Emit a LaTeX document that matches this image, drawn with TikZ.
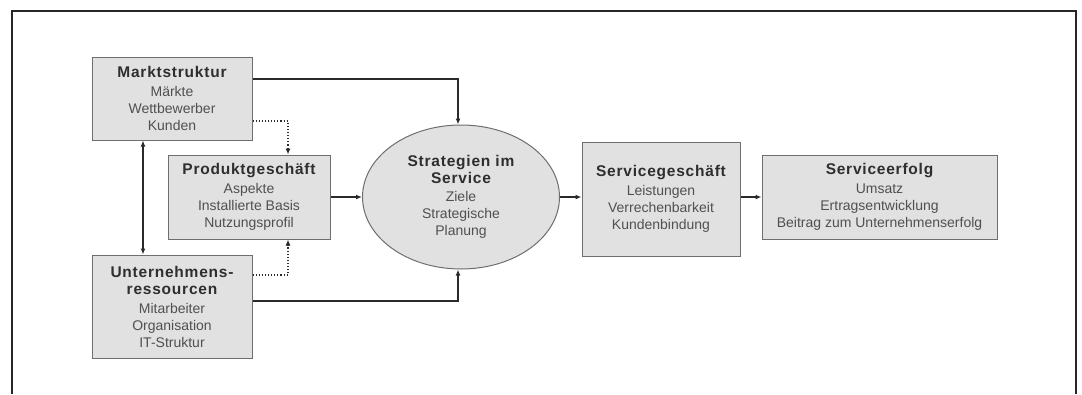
\documentclass[tikz,border=0pt]{standalone}
\usepackage{fontspec}
\setmainfont{Liberation Sans}
\usetikzlibrary{arrows.meta,shapes.geometric}
\definecolor{boxfill}{HTML}{E1E1E1}
\definecolor{boxline}{HTML}{6E6E6E}
\definecolor{titlecol}{HTML}{2E2E2E}
\definecolor{subcol}{HTML}{505050}
\definecolor{conn}{HTML}{2A2A2A}
\newcommand{\ttl}[1]{{\fontsize{15.5}{20}\selectfont\bfseries\addfontfeatures{LetterSpace=5}\color{titlecol}#1}}
\newcommand{\sbl}{\fontsize{14}{17}\selectfont\color{subcol}}
\tikzset{
  box/.style={draw=boxline, line width=1pt, fill=boxfill, rectangle, align=center, inner sep=0pt, font=\sbl},
  oval/.style={draw=boxline, line width=1pt, fill=boxfill, ellipse, align=center, inner sep=0pt, font=\sbl},
  conn/.style={draw=conn, line width=1.5pt, -{Latex[length=6pt,width=5pt]}},
  biconn/.style={draw=conn, line width=1.5pt, {Latex[length=6pt,width=5pt]}-{Latex[length=6pt,width=5pt]}},
  dotconn/.style={draw=conn, line width=1.1pt, dotted, -{Latex[length=6pt,width=5pt]}},
  frameline/.style={draw=black!85, line width=2pt}
}
\begin{document}
\begin{tikzpicture}[x=1pt,y=-1pt]
\useasboundingbox (0,0) rectangle (1082,394);
\draw[frameline] (12,394) -- (12,11) -- (1076,11) -- (1076,394);

\node[box, minimum width=160pt, minimum height=83pt] (markt) at (172,98.5)
  {\ttl{Marktstruktur}\\[2pt] Märkte\\ Wettbewerber\\ Kunden};
\node[box, minimum width=162pt, minimum height=84pt] (prod) at (249,197)
  {\ttl{Produktgeschäft}\\[2pt] Aspekte\\ Installierte Basis\\ Nutzungsprofil};
\node[box, minimum width=160pt, minimum height=103pt] (unt) at (172,306.5)
  {\ttl{Unternehmens-}\\ \ttl{ressourcen}\\[2pt] Mitarbeiter\\ Organisation\\ IT-Struktur};
\node[oval, minimum width=197pt, minimum height=144pt] (strat) at (461,197)
  {\ttl{Strategien im}\\ \ttl{Service}\\[1pt] Ziele\\ Strategische\\ Planung};
\node[box, minimum width=158pt, minimum height=114pt] (serv) at (661,199)
  {\ttl{Servicegeschäft}\\[2pt] Leistungen\\ Verrechenbarkeit\\ Kundenbindung};
\node[box, minimum width=235pt, minimum height=84pt] (erf) at (879.5,197)
  {\ttl{Serviceerfolg}\\[2pt] Umsatz\\ Ertragsentwicklung\\ Beitrag zum Unternehmenserfolg};

\draw[conn] ([yshift=19.5pt]markt.east) -| ([xshift=-3pt]strat.north);
\draw[conn] ([yshift=5.5pt]unt.east) -| ([xshift=-3pt]strat.south);
\draw[biconn] ([xshift=-29pt]markt.south) -- ([xshift=-29pt]unt.north);
\draw[dotconn] ([yshift=-22.5pt]markt.east) -| ([xshift=39pt]prod.north);
\draw[dotconn] ([yshift=31.5pt]unt.east) -| ([xshift=39pt]prod.south);
\draw[conn] (prod.east) -- (strat.west);
\draw[conn] (strat.east) -- (serv.west |- strat.east);
\draw[conn] (serv.east |- erf.west) -- (erf.west);
\end{tikzpicture}
\end{document}
